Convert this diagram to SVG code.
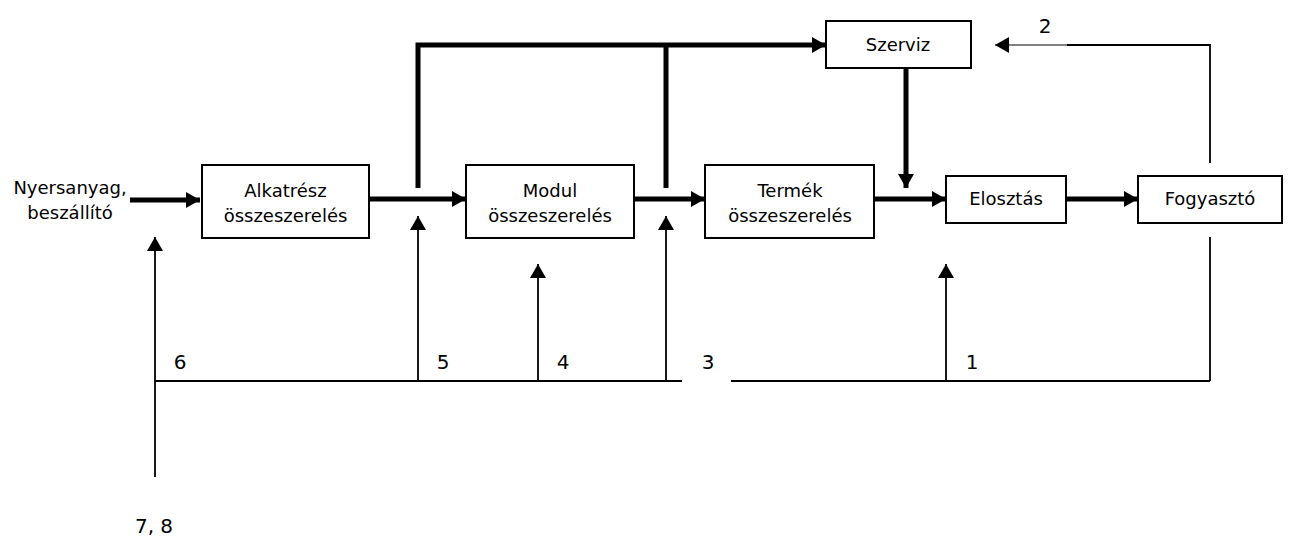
<svg xmlns="http://www.w3.org/2000/svg" width="1290" height="540" viewBox="0 0 1290 540">
  <style>
    .box { fill: #fff; stroke: #000; stroke-width: 2; }
    .lbl { font-family: "DejaVu Sans", Verdana, sans-serif; font-size: 18px; fill: #000; text-anchor: middle; }
    .num { font-family: "DejaVu Sans", Verdana, sans-serif; font-size: 20px; fill: #000; text-anchor: middle; }
    .thick { fill: none; stroke: #000; stroke-width: 5; }
    .thin { fill: none; stroke: #000; stroke-width: 1.8; }
  </style>
  <defs>
    <marker id="head" markerUnits="userSpaceOnUse" markerWidth="14" markerHeight="16" refX="14" refY="8" orient="auto">
      <path d="M0,0 L14,8 L0,16 Z" fill="#000"/>
    </marker>
  </defs>

  <rect width="1290" height="540" fill="#fff"/>

  <!-- connectors -->
  <g id="connectors">
    <!-- main material flow -->
    <line class="thick" x1="130" y1="200" x2="200" y2="200" marker-end="url(#head)"/>
    <line class="thick" x1="369" y1="199" x2="466" y2="199" marker-end="url(#head)"/>
    <line class="thick" x1="634" y1="199" x2="705" y2="199" marker-end="url(#head)"/>
    <line class="thick" x1="874" y1="199" x2="946" y2="199" marker-end="url(#head)"/>
    <line class="thick" x1="1066" y1="199" x2="1138" y2="199" marker-end="url(#head)"/>
    <!-- branches to service -->
    <polyline class="thick" points="418,188 418,45 826,45" marker-end="url(#head)"/>
    <line class="thick" x1="666" y1="45" x2="666" y2="188"/>
    <line class="thick" x1="906" y1="68" x2="906" y2="188" marker-end="url(#head)"/>

    <!-- return path 2 -->
    <polyline class="thin" points="1210,163 1210,45 1067,45"/>
    <line x1="1067" y1="45" x2="995" y2="45" stroke="#000" stroke-width="1" marker-end="url(#head)"/>

    <!-- return paths along the bottom -->
    <line class="thin" x1="1210" y1="237" x2="1210" y2="381"/>
    <line class="thin" x1="155" y1="381" x2="682" y2="381"/>
    <line class="thin" x1="731" y1="381" x2="1210" y2="381"/>
    <line class="thin" x1="155" y1="477" x2="155" y2="237" marker-end="url(#head)"/>
    <line class="thin" x1="418" y1="381" x2="418" y2="216" marker-end="url(#head)"/>
    <line class="thin" x1="538" y1="381" x2="538" y2="264" marker-end="url(#head)"/>
    <line class="thin" x1="666" y1="381" x2="666" y2="216" marker-end="url(#head)"/>
    <line class="thin" x1="946" y1="381" x2="946" y2="264" marker-end="url(#head)"/>
  </g>

  <!-- nodes -->
  <g id="source">
    <text class="lbl" x="70" y="194">Nyersanyag,</text>
    <text class="lbl" x="70" y="219">beszállító</text>
  </g>
  <g id="alkatresz">
    <rect class="box" x="202" y="165" width="167" height="73"/>
    <text class="lbl" x="285.5" y="197">Alkatrész</text>
    <text class="lbl" x="285.5" y="222">összeszerelés</text>
  </g>
  <g id="modul">
    <rect class="box" x="466" y="165" width="168" height="73"/>
    <text class="lbl" x="550" y="197">Modul</text>
    <text class="lbl" x="550" y="222">összeszerelés</text>
  </g>
  <g id="termek">
    <rect class="box" x="705" y="165" width="169" height="73"/>
    <text class="lbl" x="790" y="197">Termék</text>
    <text class="lbl" x="790" y="222">összeszerelés</text>
  </g>
  <g id="elosztas">
    <rect class="box" x="946" y="176" width="120" height="47"/>
    <text class="lbl" x="1006" y="205">Elosztás</text>
  </g>
  <g id="fogyaszto">
    <rect class="box" x="1138" y="176" width="144" height="47"/>
    <text class="lbl" x="1210" y="205">Fogyasztó</text>
  </g>
  <g id="szerviz">
    <rect class="box" x="826" y="21" width="145" height="47"/>
    <text class="lbl" x="898" y="51">Szerviz</text>
  </g>

  <!-- path numbers -->
  <g id="numbers">
    <text class="num" x="1045" y="33">2</text>
    <text class="num" x="180" y="369">6</text>
    <text class="num" x="443" y="369">5</text>
    <text class="num" x="563" y="369">4</text>
    <text class="num" x="708" y="369">3</text>
    <text class="num" x="972" y="369">1</text>
    <text class="num" x="154" y="533">7, 8</text>
  </g>
</svg>
